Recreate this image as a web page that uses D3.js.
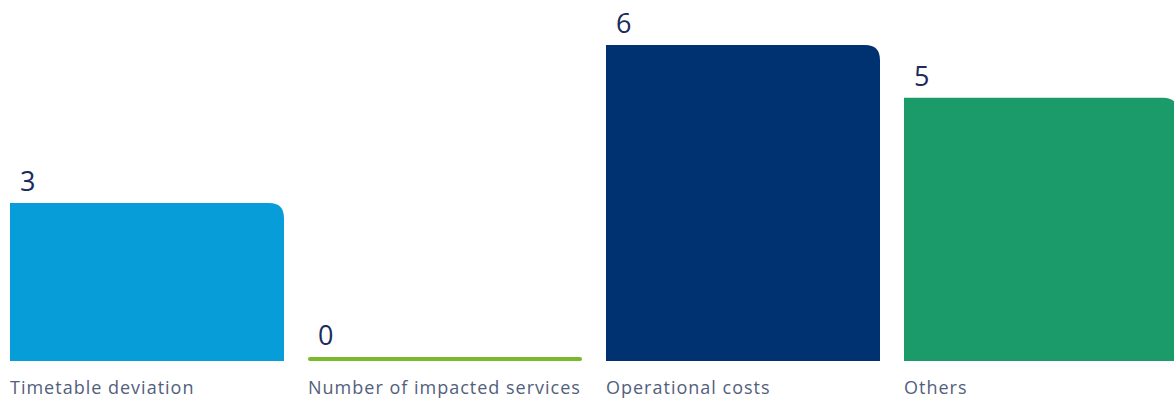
<!DOCTYPE html>
<html>
<head>
<meta charset="utf-8">
<script src="https://cdn.jsdelivr.net/npm/d3@7"></script>
<style>
  body { margin: 0; background: #fff; }
  .label { font-family: "Open Sans", Lato, sans-serif; font-size: 18px; letter-spacing: 1px; fill: #52607c; }
  .value { font-family: "Open Sans", Lato, sans-serif; font-size: 27px; fill: #1b2b5b; }
</style>
</head>
<body>
<div id="chart"></div>
<script>
var categories = ["Timetable deviation", "Number of impacted services", "Operational costs", "Others"];
var values = [3, 0, 6, 5];
var colors = ["#069dd8", "#7ab929", "#003170", "#1b9b6a"];

var w = 1174, h = 401;

var svg = d3.select("#chart")
    .append("svg")
    .attr("width", w)
    .attr("height", h);

// band scale: bars start at 10, step 298, bar width 274
var xScale = d3.scaleBand()
    .domain(categories)
    .range([10, 10 + 298 * 4 - 24])
    .paddingInner(24 / 298)
    .paddingOuter(0);

var yScale = d3.scaleLinear()
    .domain([0, 6])
    .range([361, 45]);

// rect with only the top-right corner rounded
function barPath(x, y, bw, bh, r) {
    r = Math.min(r, bh, bw);
    return "M" + x + "," + (y + bh) +
        "V" + y +
        "H" + (x + bw - r) +
        "Q" + (x + bw) + "," + y + " " + (x + bw) + "," + (y + r) +
        "V" + (y + bh) + "Z";
}

var bars = svg.selectAll("g.bar")
    .data(categories)
    .enter()
    .append("g")
    .attr("class", "bar");

bars.each(function (d, i) {
    var g = d3.select(this);
    var x = xScale(d), bw = xScale.bandwidth();
    if (values[i] > 0) {
        var y = yScale(values[i]);
        g.append("path")
            .attr("d", barPath(x, y, bw, yScale(0) - y, 15))
            .attr("fill", colors[i]);
    } else {
        // zero value: thin rounded line on the baseline
        g.append("rect")
            .attr("x", x)
            .attr("y", yScale(0) - 4)
            .attr("width", bw)
            .attr("height", 4)
            .attr("rx", 2)
            .attr("fill", colors[i]);
    }
    var top = values[i] > 0 ? yScale(values[i]) : yScale(0) - 4;
    g.append("text")
        .attr("class", "value")
        .attr("x", x + 10)
        .attr("y", top - 12)
        .text(values[i]);
    g.append("text")
        .attr("class", "label")
        .attr("x", x)
        .attr("y", 394)
        .text(d);
});
</script>
</body>
</html>
